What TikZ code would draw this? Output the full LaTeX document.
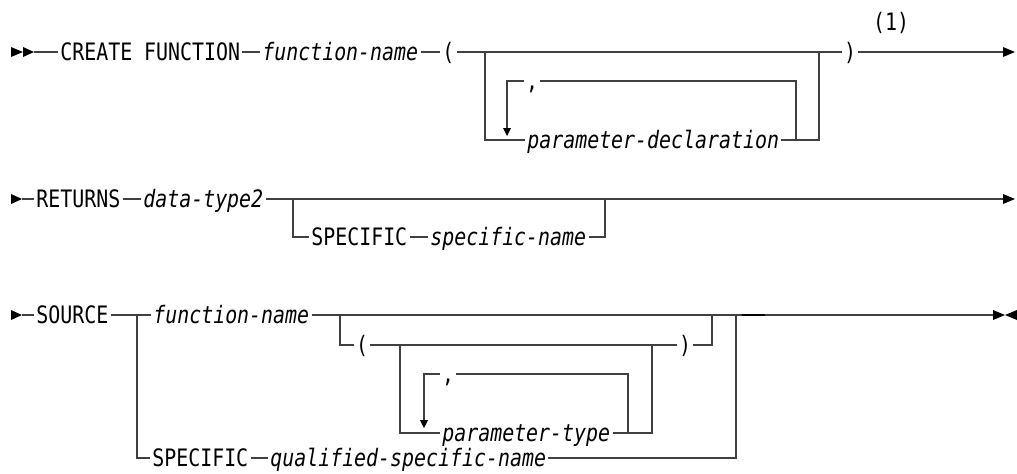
\documentclass[tikz,border=0pt]{standalone}
\usepackage{fontspec}
\newfontfamily\railfont[FakeStretch=0.83]{DejaVu Sans Mono}
\begin{document}
\begin{tikzpicture}[x=0.5pt,y=-0.5pt,line width=0.7pt,
  every node/.style={font=\railfont\fontsize{12pt}{14pt}\selectfont,inner xsep=0.8pt,inner ysep=0pt,text height=8.7pt,text depth=0pt},
  kw/.style={anchor=west},
  var/.style={anchor=west,font=\railfont\itshape\fontsize{12pt}{14pt}\selectfont},
  rail/.style={draw=black!75}]
\useasboundingbox (0,0) rectangle (1017,473);
% first row
\fill (11,47) -- (23,52) -- (11,57) -- cycle;
\fill (23,47) -- (34,52) -- (23,57) -- cycle;
\coordinate (s1) at (34,52);
\node[kw] (create) at (58,52) {CREATE FUNCTION};
\node[var] (fn1) at (260,52) {function-name};
\node[kw] (lp1) at (440,52) {(};
\node (rp1) at (850,52) {)};
\node (note1) at (891,22) {(1)};
\coordinate (b1l) at (485,52);
\coordinate (b1r) at (819,52);
\coordinate (e1) at (1003,52);
\coordinate (l1a) at (485,140);
\coordinate (l1b) at (819,140);
\node[var] (pdecl) at (525,140) {parameter-declaration};
\node (comma1) at (532,81) {,};
\coordinate (r1l) at (507,81);
\coordinate (r1r) at (796,81);
\coordinate (r1b) at (796,140);
\draw[rail] (s1) -- (create.west) (create.east) -- (fn1.west) (fn1.east) -- (lp1.west);
\draw[rail] (lp1.east) -- (b1l) -- (b1r) -- (rp1.west) (rp1.east) -- (e1);
\draw[rail] (b1l) -- (l1a) -- (pdecl.west) (pdecl.east) -- (l1b) -- (b1r);
\draw[rail] (r1b) -- (r1r) -- (comma1.east) (comma1.west) -- (r1l) -- (507,128);
\fill (503,128) -- (511,128) -- (507,136) -- cycle;
\fill (e1) ++(0,-5) -- ++(12,5) -- ++(-12,5) -- cycle;
% second row
\fill (11,194) -- (22,199) -- (11,204) -- cycle;
\coordinate (s2) at (22,199);
\node[kw] (ret) at (34,199) {RETURNS};
\node[var] (dt2) at (141,199) {data-type2};
\coordinate (b2l) at (293,199);
\coordinate (b2r) at (605,199);
\coordinate (e2) at (1003,199);
\node[kw] (spec1) at (309,237) {SPECIFIC};
\node[var] (sname) at (428,237) {specific-name};
\draw[rail] (s2) -- (ret.west) (ret.east) -- (dt2.west) (dt2.east) -- (b2l) -- (b2r) -- (e2);
\draw[rail] (b2l) -- (293,237) -- (spec1.west) (spec1.east) -- (sname.west) (sname.east) -- (605,237) -- (b2r);
\fill (e2) ++(0,-5) -- ++(12,5) -- ++(-12,5) -- cycle;
% third row
\fill (11,310) -- (22,315) -- (11,320) -- cycle;
\coordinate (s3) at (22,315);
\node[kw] (src) at (34,315) {SOURCE};
\coordinate (b3l) at (137,315);
\coordinate (b3r) at (736,315);
\coordinate (e3) at (993,315);
\node[var] (fn2) at (151,315) {function-name};
\coordinate (b4l) at (340,315);
\coordinate (b4r) at (712,315);
\node (lp2) at (362,345) {(};
\node (rp2) at (685,345) {)};
\coordinate (g3l) at (400,345);
\coordinate (g3r) at (652,345);
\node[var] (ptype) at (440,433) {parameter-type};
\node (comma2) at (448,374) {,};
\coordinate (r3l) at (424,374);
\coordinate (r3r) at (628,374);
\node[kw] (spec2) at (150,458) {SPECIFIC};
\node[var] (qsn) at (268,458) {qualified-specific-name};
\draw[rail] (s3) -- (src.west) (src.east) -- (b3l) -- (fn2.west) (fn2.east) -- (b4l) -- (b4r) -- (b3r) -- (e3);
\draw[rail] (b3l) -- (137,458) -- (spec2.west) (spec2.east) -- (qsn.west) (qsn.east) -- (736,458) -- (b3r);
\draw[rail] (b4l) -- (340,345) -- (lp2.west) (lp2.east) -- (g3l) -- (g3r) -- (rp2.west) (rp2.east) -- (712,345) -- (b4r);
\draw[rail] (g3l) -- (400,433) -- (ptype.west) (ptype.east) -- (652,433) -- (g3r);
\draw[rail] (628,433) -- (r3r) -- (comma2.east) (comma2.west) -- (r3l) -- (424,420);
\fill (420,420) -- (428,420) -- (424,428) -- cycle;
\draw[line width=1.4pt] (742,315) -- (765,315);
\fill (e3) ++(0,-5) -- ++(12,5) -- ++(-12,5) -- cycle;
\fill (1017,310) -- (1005,315) -- (1017,320) -- cycle;
\end{tikzpicture}
\end{document}
